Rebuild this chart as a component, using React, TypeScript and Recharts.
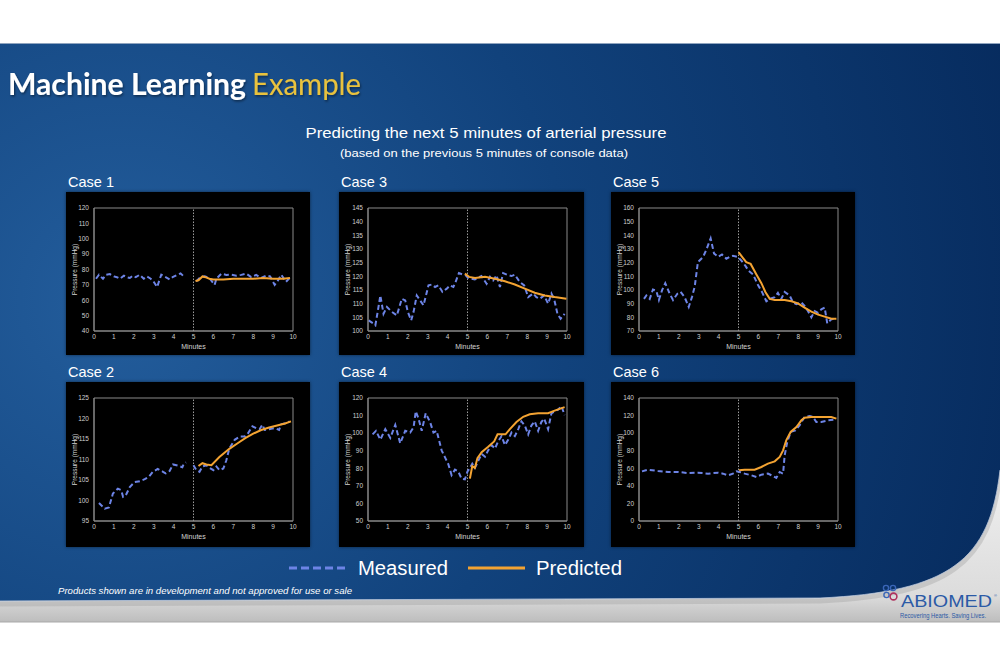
import React from 'react';
import { LineChart, Line, XAxis, YAxis, ReferenceLine, ReferenceArea } from 'recharts';

type Pt = [number, number | null];

const minuteTicks = [0, 1, 2, 3, 4, 5, 6, 7, 8, 9, 10];
const caseNames = ['Case 1', 'Case 2', 'Case 3', 'Case 4', 'Case 5', 'Case 6'];
const legendLabels = ['Measured', 'Predicted'];

const case1Ticks = [40, 50, 60, 70, 80, 90, 100, 110, 120];
const case2Ticks = [95, 100, 105, 110, 115, 120, 125];
const case3Ticks = [100, 105, 110, 115, 120, 125, 130, 135, 140, 145];
const case4Ticks = [50, 60, 70, 80, 90, 100, 110, 120];
const case5Ticks = [70, 80, 90, 100, 110, 120, 130, 140, 150, 160];
const case6Ticks = [0, 20, 40, 60, 80, 100, 120, 140];

const case1Measured: Pt[] = [
  [0.1, 74], [0.25, 76.6], [0.45, 74], [0.6, 76.6], [0.8, 77], [1.0, 75.5], [1.15, 75], [1.3, 74],
  [1.5, 76], [1.65, 75], [1.8, 74.5], [1.95, 76], [2.1, 75], [2.3, 76.6], [2.5, 74], [2.65, 75.5],
  [2.85, 74], [3.0, 72], [3.17, 68.6], [3.38, 76.6], [3.6, 75], [3.8, 73.5], [3.95, 75], [4.2, 76.6],
  [4.35, 77.5], [4.47, 76], [4.8, null], [5.14, 72.3], [5.35, 75], [5.56, 75.6], [5.8, 74.5], [6.06, 70],
  [6.15, 74], [6.4, 77.3], [6.65, 76.5], [6.9, 76.6], [7.15, 76], [7.4, 76.5], [7.65, 77.3], [7.9, 75],
  [8.15, 76.5], [8.4, 74.5], [8.65, 76], [8.85, 75.5], [9.08, 70], [9.25, 73], [9.41, 76.6], [9.65, 72],
  [9.87, 75],
];
const case1Predicted: Pt[] = [
  [5.1, 72.5], [5.25, 73], [5.45, 75.5], [5.6, 75], [5.8, 74], [6.0, 73.5], [6.5, 73.5], [7.0, 74],
  [7.5, 74], [8.0, 74], [8.5, 74.5], [9.0, 74], [9.5, 74], [9.85, 74.5],
];

const case2Measured: Pt[] = [
  [0.25, 99.4], [0.54, 98.0], [0.75, 98.3], [0.95, 101.7], [1.2, 102.9], [1.37, 102.5], [1.46, 100.9],
  [1.6, 101.3], [1.8, 103.3], [2.04, 104.5], [2.3, 104.7], [2.55, 105.2], [2.76, 105.8], [2.96, 107],
  [3.2, 107.7], [3.47, 107], [3.6, 106.6], [3.8, 107.2], [3.97, 108.8], [4.22, 108.5], [4.44, 108.1],
  [4.5, 108.8], [4.62, 109.3], [4.8, null], [5.0, 108.6], [5.14, 107.4], [5.3, 107], [5.45, 108.3],
  [5.65, 108.6], [5.8, 108], [6.0, 107.4], [6.15, 108.3], [6.3, 107.4], [6.5, 107.8], [6.65, 109.8],
  [6.8, 112.7], [7.07, 114.8], [7.32, 115.6], [7.57, 115.6], [7.74, 116.4], [7.96, 118.1], [8.16, 117.6],
  [8.32, 117.4], [8.46, 118.5], [8.58, 117.2], [8.8, 117.4], [9.0, 117.6], [9.16, 117.5], [9.3, 117.2],
  [9.41, 118.6], [9.66, 118.9], [9.83, 119.3],
];
const case2Predicted: Pt[] = [
  [5.25, 108.4], [5.45, 109.1], [5.65, 108.8], [5.9, 108.6], [6.3, 110.6], [6.8, 112.6], [7.2, 113.9],
  [7.6, 115.2], [8.0, 116.3], [8.4, 117.2], [8.8, 117.8], [9.2, 118.3], [9.6, 118.8], [9.9, 119.3],
];

const case3Measured: Pt[] = [
  [0.03, 103.9], [0.28, 102.7], [0.37, 102.1], [0.5, 107.6], [0.62, 113], [0.78, 106.3], [0.95, 108.8],
  [1.2, 107], [1.45, 105.7], [1.7, 111.8], [1.87, 111.2], [2.0, 107], [2.17, 103.9], [2.29, 107],
  [2.45, 113], [2.62, 111.2], [2.79, 109.4], [3.04, 116.7], [3.2, 117], [3.37, 116.1], [3.54, 116.7],
  [3.74, 114.3], [3.96, 115.5], [4.12, 116.7], [4.29, 116.1], [4.4, 117.9], [4.57, 121.2], [4.79, 120.6],
  [4.91, 120.4], [5.04, 119.4], [5.37, 118.9], [5.7, 120.1], [5.96, 117.3], [6.13, 119.8], [6.29, 118.5],
  [6.46, 120.4], [6.63, 116.1], [6.79, 121.2], [7.05, 120.4], [7.21, 120.1], [7.38, 120.6], [7.63, 117.9],
  [7.85, 116.7], [8.05, 112.4], [8.3, 113.7], [8.46, 112.4], [8.63, 111.8], [8.85, 113], [9.05, 110],
  [9.22, 113.7], [9.35, 111.8], [9.52, 106.3], [9.68, 104.5], [9.88, 106.3],
];
const case3Predicted: Pt[] = [
  [4.87, 121], [5.08, 119.8], [5.38, 119.4], [5.88, 119.8], [6.38, 119.1], [6.88, 118.2], [7.38, 117],
  [7.88, 115.5], [8.38, 114], [8.88, 113], [9.38, 112.4], [9.97, 111.8],
];

const case4Measured: Pt[] = [
  [0.23, 99.3], [0.4, 101.3], [0.62, 96.3], [0.87, 102.3], [1.12, 97.3], [1.37, 104.7], [1.62, 94.2],
  [1.87, 101.3], [2.12, 100.3], [2.29, 103.3], [2.4, 112.4], [2.54, 108.3], [2.7, 101.3], [2.9, 111.3],
  [3.12, 106.3], [3.29, 100.3], [3.45, 101.3], [3.7, 90.2], [3.87, 86.2], [4.04, 82.2], [4.2, 76.1],
  [4.37, 79.2], [4.54, 78.1], [4.7, 74.1], [4.87, 73.7], [5.0, 78.2], [5.12, 80.2], [5.24, 82.6],
  [5.37, 80.2], [5.54, 84.2], [5.71, 88.2], [5.88, 86.6], [6.04, 90.2], [6.21, 93.2], [6.38, 91.2],
  [6.54, 95.3], [6.71, 98.3], [6.88, 93.2], [7.05, 96.3], [7.21, 100.3], [7.38, 98.3], [7.55, 102.3],
  [7.71, 106.7], [7.88, 104.3], [8.05, 99.3], [8.21, 104.3], [8.38, 106.7], [8.55, 101.3], [8.71, 106.3],
  [8.85, 108.3], [9.05, 102.3], [9.22, 111.3], [9.38, 112.4], [9.55, 113.4], [9.72, 115.4], [9.88, 110.3],
];
const case4Predicted: Pt[] = [
  [5.12, 74.1], [5.24, 81.2], [5.37, 80.2], [5.5, 85.8], [5.71, 89.2], [6.04, 92.2], [6.34, 95.3],
  [6.51, 99.3], [6.71, 99.3], [6.91, 99.3], [7.13, 102.3], [7.46, 106.3], [7.8, 109.3], [8.13, 110.7],
  [8.55, 111.3], [9.05, 111.3], [9.38, 112.8], [9.88, 114.8],
];

const case5Measured: Pt[] = [
  [0.25, 93.5], [0.37, 96], [0.54, 93.5], [0.7, 100.4], [0.87, 99.4], [1.0, 92.7], [1.16, 99.9],
  [1.32, 105], [1.54, 97.3], [1.71, 92.7], [1.93, 97.3], [2.09, 98.6], [2.29, 94.8], [2.5, 87.6],
  [2.66, 94.8], [2.8, 102.5], [2.96, 120.4], [3.22, 124.2], [3.38, 129.3], [3.6, 137.7], [3.77, 126.8],
  [3.97, 124.2], [4.17, 126], [4.39, 122.9], [4.56, 124.2], [4.72, 125], [4.97, 124.2], [5.14, 121.6],
  [5.34, 117.8], [5.51, 114], [5.73, 111.4], [5.98, 103.7], [6.18, 98.6], [6.4, 91.7], [6.57, 93.5],
  [6.82, 94.8], [6.98, 97.9], [7.15, 93.5], [7.32, 98.6], [7.57, 96], [7.74, 90.9], [7.91, 89.7],
  [8.16, 90.9], [8.32, 88.4], [8.49, 84.6], [8.66, 80], [8.83, 84.6], [9.0, 83.3], [9.16, 85.8],
  [9.33, 87.1], [9.46, 75.6], [9.63, 78.2], [9.83, 79.4],
];
const case5Predicted: Pt[] = [
  [5.01, 127.5], [5.23, 123.4], [5.39, 120.4], [5.61, 119.1], [5.9, 111.4], [6.15, 105], [6.35, 98.6],
  [6.57, 93.5], [6.82, 92.7], [7.32, 92.7], [7.66, 91.7], [7.99, 90.2], [8.32, 87.1], [8.66, 84.1],
  [9.0, 82], [9.33, 80.5], [9.67, 79], [9.92, 79],
];

const case6Measured: Pt[] = [
  [0.15, 56.5], [0.45, 58.4], [0.95, 56.9], [1.46, 55.8], [1.96, 55.8], [2.46, 54.6], [2.96, 55],
  [3.47, 53.9], [3.97, 55], [4.22, 53.9], [4.47, 52], [4.72, 53.9], [4.89, 56.5], [5.06, 55.8],
  [5.31, 53.9], [5.65, 52], [5.9, 50.1], [6.15, 52.7], [6.48, 53.9], [6.73, 51.2], [6.9, 49],
  [7.07, 55.8], [7.24, 53.9], [7.32, 74.7], [7.45, 90], [7.62, 101.3], [7.86, 103.2], [8.07, 108.9],
  [8.32, 118.4], [8.58, 119.5], [8.74, 118.4], [8.91, 112.7], [9.16, 112.7], [9.5, 114.6], [9.83, 115.3],
];
const case6Predicted: Pt[] = [
  [5.03, 57.7], [5.31, 58.4], [5.81, 58.4], [6.15, 61.5], [6.48, 65.3], [6.82, 67.9], [7.07, 72.9],
  [7.24, 80.4], [7.4, 91.8], [7.62, 101.3], [7.91, 107], [8.16, 114.6], [8.32, 117.6], [8.66, 118.4],
  [9.16, 118.4], [9.66, 118.4], [9.92, 116.5],
];

const MEASURED = '#6d84e6';
const PREDICTED = '#f3a332';
const FONT = '"Liberation Sans", Arial, sans-serif';

const toRows = (pts: Pt[]) => pts.map(([x, y]) => ({ x, y }));

type PanelProps = {
  name: string;
  left: number;
  top: number;
  width: number;
  height: number;
  plotLeft: number;
  plotRight: number;
  plotTop: number;
  plotBottom: number;
  ticks: number[];
  measured: Pt[];
  predicted: Pt[];
};

function Panel(p: PanelProps) {
  const yMin = p.ticks[0];
  const yMax = p.ticks[p.ticks.length - 1];
  const tickStyle = { fill: '#cfcfcf', fontSize: 6.5, fontFamily: FONT };
  return (
    <>
      <div
        style={{
          position: 'absolute',
          left: p.left + 2,
          top: p.top - 19,
          color: '#fff',
          fontFamily: FONT,
          fontSize: 14.5,
          lineHeight: '18px',
        }}
      >
        {p.name}
      </div>
      <div
        style={{
          position: 'absolute',
          left: p.left,
          top: p.top,
          width: p.width,
          height: p.height,
          background: '#000',
          boxShadow: '0 0 3px rgba(0,0,0,0.5)',
        }}
      >
        <LineChart
          width={p.width}
          height={p.height}
          margin={{ top: p.plotTop, right: p.plotRight, bottom: 0, left: 0 }}
        >
          <XAxis
            dataKey="x"
            type="number"
            domain={[0, 10]}
            ticks={minuteTicks}
            allowDataOverflow
            height={p.plotBottom}
            axisLine={{ stroke: '#8a8a8a' }}
            tickLine={false}
            tickSize={0}
            tickMargin={3}
            tick={tickStyle}
            interval={0}
            label={{ value: 'Minutes', position: 'insideBottom', offset: p.plotBottom - 18, fill: '#d4d4d4', fontSize: 7, fontFamily: FONT }}
          />
          <YAxis
            dataKey="y"
            type="number"
            domain={[yMin, yMax]}
            ticks={p.ticks}
            allowDataOverflow
            width={p.plotLeft}
            axisLine={{ stroke: '#8a8a8a' }}
            tickLine={false}
            tickSize={0}
            tickMargin={5}
            tick={tickStyle}
            interval={0}
            label={{
              value: 'Pressure (mmHg)',
              angle: -90,
              position: 'insideLeft',
              offset: 9,
              fill: '#d4d4d4',
              fontSize: 6.5,
              fontFamily: FONT,
              style: { textAnchor: 'middle' },
            }}
          />
          <ReferenceArea x1={0} x2={10} y1={yMin} y2={yMax} fill="none" stroke="#8a8a8a" strokeWidth={1} ifOverflow="visible" />
          <ReferenceLine x={5} stroke="#9a9a9a" strokeWidth={1} strokeDasharray="1.5 1.5" />
          <Line
            data={toRows(p.measured)}
            dataKey="y"
            type="linear"
            stroke={MEASURED}
            strokeWidth={2}
            strokeDasharray="5 3"
            dot={false}
            connectNulls={false}
            isAnimationActive={false}
          />
          <Line
            data={toRows(p.predicted)}
            dataKey="y"
            type="linear"
            stroke={PREDICTED}
            strokeWidth={2}
            dot={false}
            isAnimationActive={false}
          />
        </LineChart>
      </div>
    </>
  );
}

function Background() {
  const curve = 'M1000,470 C990,560 950,592 820,598 L0,601';
  return (
    <svg width={1000} height={667} style={{ position: 'absolute', left: 0, top: 0 }}>
      <defs>
        <radialGradient id="blueBg" cx={120} cy={300} r={1000} gradientUnits="userSpaceOnUse">
          <stop offset="0" stopColor="#235d9c" />
          <stop offset="0.45" stopColor="#11427c" />
          <stop offset="1" stopColor="#05285a" />
        </radialGradient>
        <linearGradient id="grayBg" x1="0" y1="43" x2="0" y2="622" gradientUnits="userSpaceOnUse">
          <stop offset="0.7" stopColor="#f4f4f4" />
          <stop offset="0.955" stopColor="#dcdcdc" />
          <stop offset="1" stopColor="#bdbdbd" />
        </linearGradient>
        <filter id="titleShadow" x="-5%" y="-20%" width="110%" height="150%">
          <feDropShadow dx="1" dy="1.5" stdDeviation="1" floodColor="#000" floodOpacity="0.45" />
        </filter>
      </defs>
      <rect x={0} y={0} width={1000} height={667} fill="#fff" />
      <rect x={0} y={43} width={1000} height={579} fill="url(#grayBg)" />
      <line x1={0} y1={622} x2={1000} y2={622} stroke="#a9a9a9" strokeWidth={1} />
      <path d={curve} fill="none" stroke="#9a9a9a" strokeWidth={5} opacity={0.35} transform="translate(0,3)" />
      <path d="M0,43 H1000 V470 C990,560 950,592 820,598 L0,601 Z" fill="url(#blueBg)" />
      <path d={curve} fill="none" stroke="#b9c6da" strokeWidth={1} opacity={0.8} />
      <line x1={0} y1={43.5} x2={1000} y2={43.5} stroke="#8fa4bf" strokeWidth={1} />

      <text x={8} y={95} fill="#fff" fontFamily="Lato, sans-serif" fontWeight={700} fontSize={31}
        textLength={238} lengthAdjust="spacingAndGlyphs" filter="url(#titleShadow)">Machine Learning</text>
      <text x={252} y={95} fill="#e9c23e" fontFamily="Lato, sans-serif" fontWeight={400} fontSize={31}
        textLength={109} lengthAdjust="spacingAndGlyphs" filter="url(#titleShadow)">Example</text>

      <text x={486} y={138} fill="#fff" fontFamily={FONT} fontSize={15} textAnchor="middle"
        textLength={361} lengthAdjust="spacingAndGlyphs">Predicting the next 5 minutes of arterial pressure</text>
      <text x={484} y={157} fill="#fff" fontFamily={FONT} fontSize={11.5} textAnchor="middle"
        textLength={288} lengthAdjust="spacingAndGlyphs">(based on the previous 5 minutes of console data)</text>

      <line x1={289} y1={568} x2={345} y2={568} stroke={MEASURED} strokeWidth={3} strokeDasharray="8 4" />
      <text x={358} y={575} fill="#fff" fontFamily={FONT} fontSize={20}
        textLength={90} lengthAdjust="spacingAndGlyphs">{legendLabels[0]}</text>
      <line x1={468} y1={568} x2={525} y2={568} stroke={PREDICTED} strokeWidth={3} />
      <text x={536} y={575} fill="#fff" fontFamily={FONT} fontSize={20}
        textLength={86} lengthAdjust="spacingAndGlyphs">{legendLabels[1]}</text>

      <text x={58} y={594} fill="#fff" fontFamily={FONT} fontStyle="italic" fontSize={8.5}
        textLength={294} lengthAdjust="spacingAndGlyphs">Products shown are in development and not approved for use or sale</text>

      <circle cx={886} cy={588} r={2.6} fill="none" stroke="#3a66b8" strokeWidth={1.4} />
      <circle cx={893} cy={588} r={2.6} fill="none" stroke="#3a66b8" strokeWidth={1.4} />
      <circle cx={886.5} cy={595} r={2.6} fill="none" stroke="#3a66b8" strokeWidth={1.4} />
      <circle cx={893.5} cy={596.5} r={3.4} fill="none" stroke="#b0325e" strokeWidth={1.6} />
      <text x={901} y={607} fill="#2b5aa6" fontFamily={FONT} fontSize={16}
        textLength={91} lengthAdjust="spacingAndGlyphs">ABIOMED</text>
      <text x={994} y={597} fill="#2b5aa6" fontFamily={FONT} fontSize={4}>®</text>
      <text x={900} y={618} fill="#2b5aa6" fontFamily={FONT} fontSize={6.5}
        textLength={86} lengthAdjust="spacingAndGlyphs">Recovering Hearts. Saving Lives.</text>
    </svg>
  );
}

export default function App() {
  return (
    <div style={{ position: 'absolute', left: 0, top: 0, width: 1000, height: 667, overflow: 'hidden' }}>
      <Background />
      <Panel name={caseNames[0]} left={66} top={192} width={244} height={163} plotLeft={28} plotRight={17}
        plotTop={16} plotBottom={24} ticks={case1Ticks} measured={case1Measured} predicted={case1Predicted} />
      <Panel name={caseNames[2]} left={339} top={192} width={245} height={163} plotLeft={29} plotRight={17}
        plotTop={16} plotBottom={24} ticks={case3Ticks} measured={case3Measured} predicted={case3Predicted} />
      <Panel name={caseNames[4]} left={611} top={192} width={244} height={163} plotLeft={28} plotRight={17}
        plotTop={16} plotBottom={24} ticks={case5Ticks} measured={case5Measured} predicted={case5Predicted} />
      <Panel name={caseNames[1]} left={66} top={382} width={244} height={165} plotLeft={28} plotRight={17}
        plotTop={16} plotBottom={26} ticks={case2Ticks} measured={case2Measured} predicted={case2Predicted} />
      <Panel name={caseNames[3]} left={339} top={382} width={245} height={165} plotLeft={29} plotRight={17}
        plotTop={16} plotBottom={26} ticks={case4Ticks} measured={case4Measured} predicted={case4Predicted} />
      <Panel name={caseNames[5]} left={611} top={382} width={244} height={165} plotLeft={28} plotRight={17}
        plotTop={16} plotBottom={26} ticks={case6Ticks} measured={case6Measured} predicted={case6Predicted} />
    </div>
  );
}
